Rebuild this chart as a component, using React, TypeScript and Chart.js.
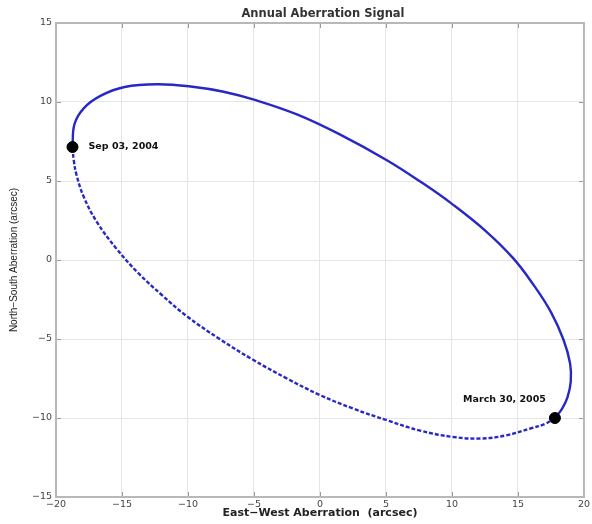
import { useEffect, useRef } from "react";
import { Chart, registerables } from "chart.js";
Chart.register(...registerables);

// East-West / North-South aberration (arcsec)
const solidEW = [-18.75, -18.6, -17.9, -16.6, -14.8, -12.3, -9.8, -7.3, -4.8, -1.7, 1.5, 5.1, 7.8, 10.0, 12.6, 14.65, 16.2, 17.5, 18.45, 18.95, 19.0, 18.75, 18.35, 17.8];
const solidNS = [7.15, 8.6, 9.6, 10.4, 10.95, 11.12, 10.98, 10.65, 10.1, 9.2, 7.95, 6.3, 4.85, 3.55, 1.8, 0.1, -1.6, -3.3, -5.05, -6.55, -7.7, -8.7, -9.4, -10.0];
const dashedEW = [17.8, 17.05, 16.0, 14.1, 12.2, 10.1, 7.6, 5.1, 2.5, 0.0, -2.5, -5.1, -7.6, -10.1, -12.0, -13.8, -15.45, -16.9, -17.9, -18.45, -18.65, -18.75];
const dashedNS = [-10.0, -10.38, -10.65, -11.1, -11.3, -11.2, -10.8, -10.15, -9.4, -8.55, -7.5, -6.3, -5.0, -3.55, -2.2, -0.8, 0.75, 2.4, 4.0, 5.4, 6.3, 7.15];
const markerEW = [-18.75, 17.8];
const markerNS = [7.15, -10.0];
const markerLabels = ["Sep 03, 2004", "March 30, 2005"];
const xMin = -20, xMax = 20, yMin = -15, yMax = 15, tickStep = 5;
const titleText = "Annual Aberration Signal";
const xTitle = "East\u2212West Aberration  (arcsec)";
const yTitle = "North\u2212South Aberration (arcsec)";

const toPts = (xs: number[], ys: number[]) => xs.map((x, i) => ({ x, y: ys[i] }));
const fmt = (v: number | string) => {
  const n = Number(v);
  return n < 0 ? "\u2212" + Math.abs(n) : String(n);
};

const decorPlugin = {
  id: "decor",
  afterDraw(chart: any) {
    const { ctx, chartArea: a, scales } = chart;
    const xs = scales.x, ys = scales.y;
    ctx.save();
    // inward ticks
    ctx.strokeStyle = "#9a9a9a";
    ctx.lineWidth = 1;
    ctx.beginPath();
    for (let v = xMin; v <= xMax; v += tickStep) {
      const px = Math.round(xs.getPixelForValue(v)) + 0.5;
      ctx.moveTo(px, a.bottom); ctx.lineTo(px, a.bottom - 5);
      ctx.moveTo(px, a.top); ctx.lineTo(px, a.top + 5);
    }
    for (let v = yMin; v <= yMax; v += tickStep) {
      const py = Math.round(ys.getPixelForValue(v)) + 0.5;
      ctx.moveTo(a.left, py); ctx.lineTo(a.left + 5, py);
      ctx.moveTo(a.right, py); ctx.lineTo(a.right - 5, py);
    }
    ctx.stroke();
    // frame
    ctx.strokeStyle = "#b8b8b8";
    ctx.lineWidth = 2;
    ctx.strokeRect(a.left, a.top, a.right - a.left, a.bottom - a.top);
    // title
    ctx.fillStyle = "#333";
    ctx.font = "bold 11.5px 'DejaVu Sans'";
    ctx.textAlign = "center";
    ctx.textBaseline = "middle";
    ctx.fillText(titleText, (a.left + a.right) / 2 + 3, 14);
    // marker labels
    ctx.fillStyle = "#111";
    ctx.font = "bold 9.5px 'DejaVu Sans'";
    markerLabels.forEach((t, i) => {
      const px = xs.getPixelForValue(markerEW[i]);
      const py = ys.getPixelForValue(markerNS[i]);
      if (i === 0) {
        ctx.textAlign = "left";
        ctx.fillText(t, px + 16, py);
      } else {
        ctx.textAlign = "right";
        ctx.fillText(t, px - 9, py - 18);
      }
    });
    ctx.restore();
  },
};

export default function App() {
  const ref = useRef<HTMLCanvasElement>(null);
  useEffect(() => {
    document.body.style.margin = "0";
    const lineColor = "rgb(40,40,198)";
    const chart = new Chart(ref.current!, {
      type: "scatter",
      data: {
        datasets: [
          {
            data: toPts(markerEW, markerNS),
            showLine: false,
            pointRadius: 5.5,
            pointBackgroundColor: "#000",
            pointBorderColor: "#000",
            pointBorderWidth: 1,
            order: 0,
          },
          {
            data: toPts(solidEW, solidNS),
            showLine: true,
            borderColor: lineColor,
            borderWidth: 2.4,
            pointRadius: 0,
            tension: 0.4,
            fill: false,
            order: 1,
          },
          {
            data: toPts(dashedEW, dashedNS),
            showLine: true,
            borderColor: lineColor,
            borderWidth: 2.4,
            borderDash: [4, 2],
            pointRadius: 0,
            tension: 0.4,
            fill: false,
            order: 2,
          },
        ],
      } as any,
      options: {
        responsive: false,
        animation: false,
        layout: { padding: { top: 23, right: 7, left: 0, bottom: 0 } },
        plugins: { legend: { display: false }, tooltip: { enabled: false }, title: { display: false } },
        scales: {
          x: {
            type: "linear",
            min: xMin,
            max: xMax,
            afterFit: (s: any) => { s.height = 27; },
            ticks: {
              stepSize: tickStep,
              autoSkip: false,
              maxRotation: 0,
              padding: 2,
              color: "#444",
              font: { family: "'DejaVu Sans'", size: 9.5 },
              callback: (v: any) => fmt(v),
            },
            grid: { color: "#e6e6e6", drawTicks: false },
            border: { display: false },
            title: {
              display: true,
              text: xTitle,
              color: "#222",
              font: { family: "'DejaVu Sans'", size: 11, weight: "bold" },
              padding: { top: 0, bottom: 4 },
            },
          },
          y: {
            type: "linear",
            min: yMin,
            max: yMax,
            afterFit: (s: any) => { s.width = 56; },
            ticks: {
              stepSize: tickStep,
              autoSkip: false,
              padding: 4,
              color: "#444",
              font: { family: "'DejaVu Sans'", size: 9.5 },
              callback: (v: any) => fmt(v),
            },
            grid: { color: "#e6e6e6", drawTicks: false },
            border: { display: false },
            title: {
              display: true,
              text: yTitle,
              color: "#222",
              font: { family: "'Liberation Sans'", size: 10 },
              padding: { top: 8, bottom: 0 },
            },
          },
        },
      } as any,
      plugins: [decorPlugin],
    });
    return () => chart.destroy();
  }, []);
  return (
    <div style={{ width: 592, height: 524, position: "relative" }}>
      <canvas ref={ref} width={592} height={524} style={{ width: 592, height: 524, display: "block" }} />
    </div>
  );
}
